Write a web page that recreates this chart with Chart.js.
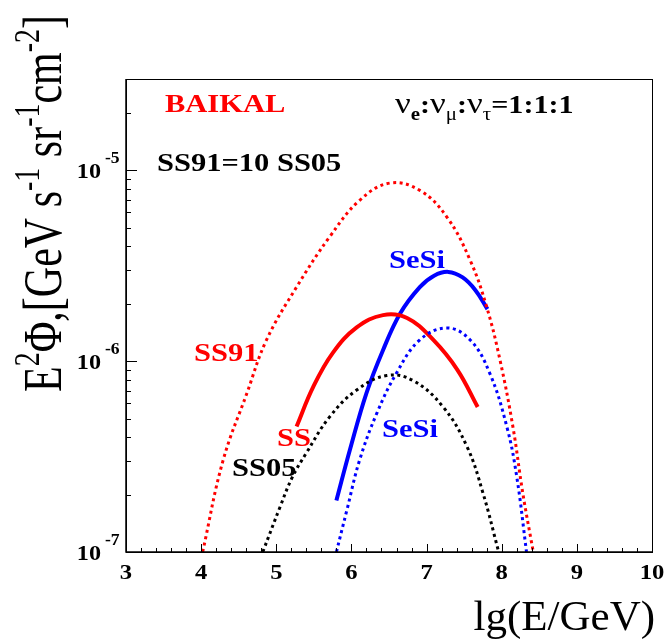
<!DOCTYPE html>
<html>
<head>
<meta charset="utf-8">
<script src="https://cdn.jsdelivr.net/npm/chart.js@4.4.0/dist/chart.umd.min.js"></script>
<style>
  html, body { margin: 0; padding: 0; background: #fff; }
  #wrap { width: 665px; height: 639px; position: relative; }
</style>
</head>
<body>
<div id="wrap"><canvas id="fluxChart"></canvas></div>
<script>
// values: lg(E/GeV) and E^2 Phi [GeV s^-1 sr^-1 cm^-2]
const ss91X = [4.02, 4.29, 4.61, 4.87, 5.27, 5.71, 6.11, 6.51, 6.91, 7.27, 7.58, 7.80, 7.98, 8.15, 8.28, 8.42];
const ss91Y = [1.0e-7, 3.0e-7, 6.8e-7, 1.29e-6, 2.44e-6, 4.47e-6, 6.95e-6, 8.55e-6, 7.83e-6, 5.68e-6, 3.37e-6, 1.92e-6, 1.0e-6, 4.5e-7, 2.04e-7, 1.0e-7];

const ss05X = [4.82, 5.05, 5.21, 5.40, 5.71, 6.07, 6.47, 6.82, 7.22, 7.54, 7.75, 7.96];
const ss05Y = [1.0e-7, 1.72e-7, 2.45e-7, 3.3e-7, 5.1e-7, 7.05e-7, 8.4e-7, 7.9e-7, 5.75e-7, 3.55e-7, 2.04e-7, 1.0e-7];

const ssX = [5.27, 5.49, 5.75, 6.07, 6.42, 6.74, 7.09, 7.41, 7.68];
const ssY = [4.54e-7, 7.3e-7, 1.1e-6, 1.5e-6, 1.74e-6, 1.68e-6, 1.29e-6, 9.0e-7, 5.75e-7];

const sesiX = [5.80, 5.98, 6.20, 6.42, 6.65, 6.91, 7.10, 7.29, 7.48, 7.65, 7.81];
const sesiY = [1.86e-7, 3.43e-7, 6.8e-7, 1.14e-6, 1.78e-6, 2.44e-6, 2.8e-6, 2.93e-6, 2.74e-6, 2.35e-6, 1.87e-6];

const sesiDotX = [5.80, 5.94, 6.11, 6.34, 6.60, 6.91, 7.27, 7.58, 7.84, 8.07, 8.20, 8.33];
const sesiDotY = [1.0e-7, 1.66e-7, 3.04e-7, 5.35e-7, 8.65e-7, 1.29e-6, 1.49e-6, 1.29e-6, 8.65e-7, 4.5e-7, 2.48e-7, 1.0e-7];

const xTickLabels = ['3', '4', '5', '6', '7', '8', '9', '10'];
const yDecades = [1e-7, 1e-6, 1e-5];
const yExponents = ['-7', '-6', '-5'];

const SERIF = '"Liberation Serif", "Times New Roman", serif';
const SX = 1.22; // labels in the figure are stretched sideways

function pts(xs, ys) {
    return xs.map((v, i) => ({ x: v, y: ys[i] }));
}

function txt(ctx, s, x, y, font, color, align, sx) {
    ctx.save();
    ctx.font = font;
    ctx.fillStyle = color;
    ctx.textAlign = align || 'left';
    ctx.textBaseline = 'alphabetic';
    ctx.translate(x, y);
    ctx.scale(sx || 1, 1);
    ctx.fillText(s, 0, 0);
    ctx.restore();
}

// draws pieces one after the other; each piece: [text, font, dy]
function rich(ctx, parts, x, y, color, sx) {
    ctx.save();
    ctx.translate(x, y);
    ctx.scale(sx, 1);
    ctx.fillStyle = color;
    ctx.textBaseline = 'alphabetic';
    let cx = 0;
    parts.forEach(p => {
        ctx.font = p[1];
        ctx.fillText(p[0], cx, p[2]);
        cx += ctx.measureText(p[0]).width;
    });
    ctx.restore();
}

const decorations = {
    id: 'decorations',
    afterDraw(chart) {
        const ctx = chart.ctx;
        const a = chart.chartArea;
        const xs = chart.scales.x, ys = chart.scales.y;
        ctx.save();

        // frame
        ctx.strokeStyle = '#000';
        ctx.lineWidth = 1;
        ctx.strokeRect(a.left + 0.5, a.top + 0.5, a.right - a.left, a.bottom - a.top);
        ctx.lineWidth = 1.5;
        ctx.beginPath();
        ctx.moveTo(a.left, a.top);
        ctx.lineTo(a.left, a.bottom);
        ctx.lineTo(a.right, a.bottom);
        ctx.stroke();

        // x ticks every 0.2, longer at integers
        ctx.lineWidth = 1;
        ctx.beginPath();
        for (let i = 0; i <= 35; i++) {
            const v = 3 + i * 0.2;
            const px = Math.round(xs.getPixelForValue(v)) + 0.5;
            const len = (i % 5 === 0) ? 8 : 4;
            ctx.moveTo(px, a.bottom);
            ctx.lineTo(px, a.bottom - len);
        }
        // y log ticks
        for (let d = -7; d <= -5; d++) {
            for (let k = 1; k <= 9; k++) {
                const v = k * Math.pow(10, d);
                if (v > ys.max * 1.0001) continue;
                const py = Math.round(ys.getPixelForValue(v)) + 0.5;
                const len = k === 1 ? 11 : 5;
                ctx.moveTo(a.left, py);
                ctx.lineTo(a.left + len, py);
            }
        }
        ctx.stroke();

        // tick labels
        xTickLabels.forEach(l => {
            txt(ctx, l, xs.getPixelForValue(Number(l)), 579, 'bold 22px ' + SERIF, '#000', 'center', 1.12);
        });
        yDecades.forEach((v, i) => {
            const py = ys.getPixelForValue(v);
            txt(ctx, '10', 101, py + 8, 'bold 22px ' + SERIF, '#000', 'right', 1.1);
            txt(ctx, yExponents[i], 105, py - 7, 'bold 16px ' + SERIF, '#000', 'left', 1.1);
        });

        // axis titles
        txt(ctx, 'lg(E/GeV)', 655, 630, '43px ' + SERIF, '#000', 'right', 1);

        ctx.save();
        ctx.translate(61, 392);
        ctx.rotate(-Math.PI / 2);
        ctx.scale(1, 1.3);
        const big = '42px ' + SERIF, sup = '28px ' + SERIF;
        rich(ctx, [
            ['E', big, 0], ['2', sup, -17], ['\u03A6,[GeV s', big, 0], ['-1', sup, -17],
            [' sr', big, 0], ['-1', sup, -17], ['cm', big, 0], ['-2', sup, -17], [']', big, 0]
        ], 0, 0, '#000', 1);
        ctx.restore();

        // annotations
        const lab = 'bold 25px ' + SERIF;
        txt(ctx, 'BAIKAL', 165, 112, lab, '#ff0000', 'left', SX);
        txt(ctx, 'SS91=10 SS05', 157, 171, lab, '#000', 'left', SX);
        txt(ctx, 'SeSi', 389, 268, lab, '#0000ff', 'left', SX);
        txt(ctx, 'SS91', 194, 361, lab, '#ff0000', 'left', SX);
        txt(ctx, 'SS', 277, 446, lab, '#ff0000', 'left', SX);
        txt(ctx, 'SS05', 232, 476, lab, '#000', 'left', SX);
        txt(ctx, 'SeSi', 382, 437, lab, '#0000ff', 'left', SX);

        const nu = '30px ' + SERIF, sb = 'bold 18px ' + SERIF, sr = '18px ' + SERIF, b = 'bold 26px ' + SERIF;
        rich(ctx, [
            ['\u03BD', nu, 0], ['e', sb, 7], [':', b, 0],
            ['\u03BD', nu, 0], ['\u03BC', sr, 7], [':', b, 0],
            ['\u03BD', nu, 0], ['\u03C4', sr, 7], ['=1:1:1', b, 0]
        ], 395, 113, '#000', 1.16);

        ctx.restore();
    }
};

const common = { pointRadius: 0, fill: false, tension: 0.4, borderCapStyle: 'butt' };

new Chart(document.getElementById('fluxChart').getContext('2d'), {
    type: 'line',
    data: {
        datasets: [
            Object.assign({ label: 'SS91', data: pts(ss91X, ss91Y), borderColor: '#ff0000', borderWidth: 3, borderDash: [3, 3.5] }, common),
            Object.assign({ label: 'SS05', data: pts(ss05X, ss05Y), borderColor: '#000000', borderWidth: 3, borderDash: [3, 3.5] }, common),
            Object.assign({ label: 'SeSi dotted', data: pts(sesiDotX, sesiDotY), borderColor: '#0000ff', borderWidth: 3, borderDash: [3, 3.5] }, common),
            Object.assign({ label: 'SS', data: pts(ssX, ssY), borderColor: '#ff0000', borderWidth: 4 }, common),
            Object.assign({ label: 'SeSi', data: pts(sesiX, sesiY), borderColor: '#0000ff', borderWidth: 4 }, common)
        ]
    },
    options: {
        responsive: true,
        maintainAspectRatio: false,
        animation: false,
        layout: { padding: { left: 126, top: 79, right: 13, bottom: 87 } },
        plugins: { legend: { display: false }, tooltip: { enabled: false } },
        scales: {
            x: { type: 'linear', min: 3, max: 10, display: false },
            y: { type: 'logarithmic', min: 1e-7, max: 3e-5, display: false }
        }
    },
    plugins: [decorations]
});
</script>
</body>
</html>
